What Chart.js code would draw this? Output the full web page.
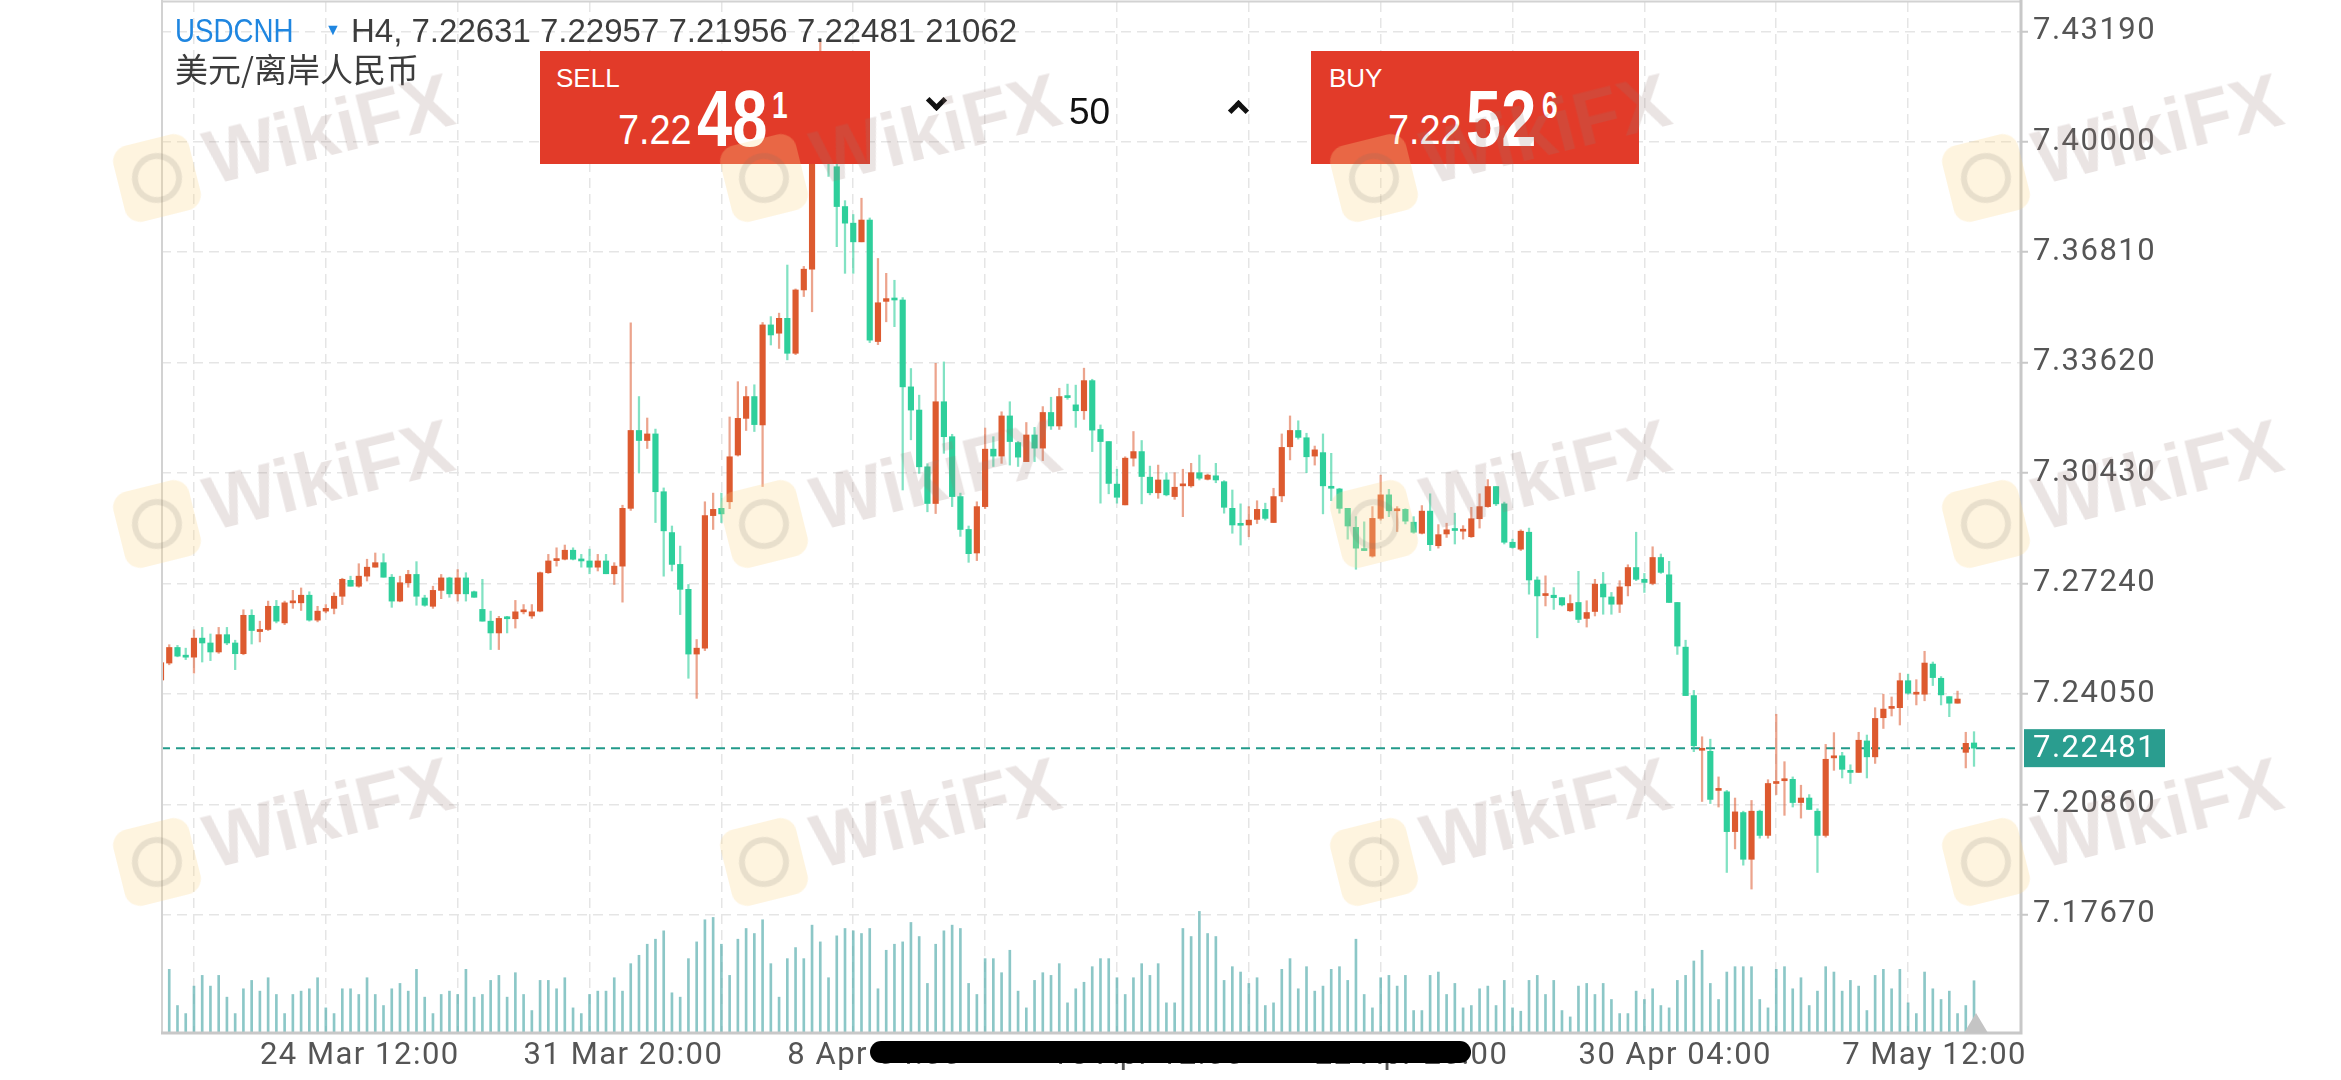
<!DOCTYPE html>
<html>
<head>
<meta charset="utf-8">
<title>USDCNH H4</title>
<script src="https://cdn.jsdelivr.net/npm/chart.js@4"></script>
<style>
  body { margin: 0; background: #fff; }
  #wrap { position: relative; width: 2341px; height: 1080px; overflow: hidden; }
  #chart { position: absolute; left: 0; top: 0; }
  .ov { position: absolute; white-space: nowrap; line-height: 1; font-family: "Liberation Sans", Arial, sans-serif; }
  .box { position: absolute; background: #e23b29; }
  .chev { position: absolute; width: 10px; height: 10px; border-right: 5px solid #111; border-bottom: 5px solid #111; }
  .wm { position: absolute; width: 0; height: 0; transform: rotate(-14deg); pointer-events: none; }
  .wm .logo { position: absolute; left: -39px; top: -39px; width: 78px; height: 78px; border-radius: 16px; background: rgba(250, 214, 140, 0.28); }
  .wm .logo i { position: absolute; left: 14px; top: 14px; width: 38px; height: 38px; border-radius: 50%; border: 6px solid rgba(120, 110, 105, 0.16); }
  .wm .txt { position: absolute; left: 52px; top: -50px; font: bold 76px "Liberation Sans", Arial, sans-serif; color: rgba(150, 122, 115, 0.2); }
</style>
</head>
<body>
<div id="wrap">
  <canvas id="chart" width="2341" height="1080"></canvas>

  <div class="ov" style="left:175px;top:14px;font-size:33px;color:#1f86e0;transform:scaleX(0.84);transform-origin:left">USDCNH</div>
  <div class="ov" style="left:325px;top:22px;font-size:16px;color:#1f86e0">&#9660;</div>
  <div class="ov" id="ohlc" style="left:351px;top:14px;font-size:33px;color:#3c3c3c"></div>
  <div class="ov" style="left:175px;top:52px;font-size:33px;color:#3c3c3c;font-family:'Noto Sans CJK SC',sans-serif">美元/离岸人民币</div>

  <div class="box" style="left:540px;top:51px;width:330px;height:113px"></div>
  <div class="ov" style="left:556px;top:65px;font-size:26px;color:#fff">SELL</div>
  <div class="ov" style="left:618px;top:109px;font-size:42px;color:#fff;transform:scaleX(0.9);transform-origin:left">7.22</div>
  <div class="ov" style="left:697px;top:79px;font-size:80px;font-weight:bold;color:#fff;transform:scaleX(0.79);transform-origin:left">48</div>
  <div class="ov" style="left:772px;top:88px;font-size:36px;font-weight:bold;color:#fff;transform:scaleX(0.78);transform-origin:left">1</div>

  <div class="chev" style="left:929px;top:93px;transform:rotate(45deg)"></div>
  <div class="ov" style="left:1069px;top:93px;font-size:37px;color:#111">50</div>
  <div class="chev" style="left:1231px;top:103px;transform:rotate(-135deg)"></div>

  <div class="box" style="left:1311px;top:51px;width:328px;height:113px"></div>
  <div class="ov" style="left:1329px;top:65px;font-size:26px;color:#fff">BUY</div>
  <div class="ov" style="left:1388px;top:109px;font-size:42px;color:#fff;transform:scaleX(0.9);transform-origin:left">7.22</div>
  <div class="ov" style="left:1466px;top:79px;font-size:80px;font-weight:bold;color:#fff;transform:scaleX(0.79);transform-origin:left">52</div>
  <div class="ov" style="left:1542px;top:88px;font-size:36px;font-weight:bold;color:#fff;transform:scaleX(0.78);transform-origin:left">6</div>

  <div style="position:absolute;left:1964px;top:1013px;width:0;height:0;border-left:12px solid transparent;border-right:12px solid transparent;border-bottom:20px solid #c4c4c4"></div>
  <div style="position:absolute;left:870px;top:1041px;width:601px;height:22px;border-radius:11px;background:#000"></div>
</div>

<script>
// USDCNH H4 bars, left to right (bar 0 sits on the left frame)
const opens = [
  7.2445, 7.2494, 7.2539, 7.2514, 7.2511, 7.2566, 7.2552, 7.2526, 7.2576, 7.2552,
  7.2521, 7.2632, 7.2585, 7.2591, 7.2658, 7.2610, 7.2668, 7.2668, 7.2690, 7.2618,
  7.2644, 7.2652, 7.2687, 7.2733, 7.2716, 7.2745, 7.2771, 7.2784, 7.2742, 7.2673,
  7.2726, 7.2750, 7.2682, 7.2658, 7.2704, 7.2740, 7.2694, 7.2740, 7.2700, 7.2649,
  7.2615, 7.2581, 7.2625, 7.2622, 7.2642, 7.2630, 7.2644, 7.2755, 7.2790, 7.2794,
  7.2820, 7.2794, 7.2789, 7.2771, 7.2789, 7.2752, 7.2774, 7.2941, 7.3166, 7.3137,
  7.3156, 7.2989, 7.2871, 7.2779, 7.2707, 7.2520, 7.2537, 7.2920, 7.2941, 7.2960,
  7.3095, 7.3201, 7.3264, 7.3182, 7.3471, 7.3447, 7.3490, 7.3389, 7.3572, 7.3632,
  7.3990, 7.4120, 7.3928, 7.3813, 7.3765, 7.3711, 7.3774, 7.3423, 7.3539, 7.3545,
  7.3543, 7.3292, 7.3225, 7.3061, 7.2955, 7.3249, 7.3148, 7.2975, 7.2880, 7.2812,
  7.2946, 7.3112, 7.3092, 7.3208, 7.3131, 7.3076, 7.3153, 7.3115, 7.3218, 7.3179,
  7.3264, 7.3240, 7.3223, 7.3310, 7.3169, 7.3134, 7.3011, 7.2951, 7.3086, 7.3105,
  7.3031, 7.2986, 7.3023, 7.2975, 7.3006, 7.3006, 7.3044, 7.3025, 7.3035, 7.3018,
  7.2941, 7.2894, 7.2893, 7.2909, 7.2938, 7.2900, 7.2977, 7.3119, 7.3166, 7.3145,
  7.3092, 7.3102, 7.3004, 7.2997, 7.2941, 7.2886, 7.2823, 7.2803, 7.2912, 7.2980,
  7.2934, 7.2938, 7.2901, 7.2869, 7.2933, 7.2833, 7.2867, 7.2879, 7.2875, 7.2859,
  7.2911, 7.2946, 7.3004, 7.2954, 7.2843, 7.2823, 7.2872, 7.2734, 7.2689, 7.2690,
  7.2683, 7.2645, 7.2669, 7.2623, 7.2643, 7.2722, 7.2685, 7.2664, 7.2717, 7.2770,
  7.2736, 7.2724, 7.2799, 7.2749, 7.2669, 7.2540, 7.2400, 7.2242, 7.2239, 7.2126,
  7.2122, 7.2007, 7.2062, 7.1927, 7.2066, 7.1996, 7.2146, 7.2154, 7.2158, 7.2091,
  7.2104, 7.2066, 7.1996, 7.2220, 7.2226, 7.2184, 7.2178, 7.2269, 7.2223, 7.2336,
  7.2363, 7.2365, 7.2443, 7.2404, 7.2404, 7.2491, 7.2450, 7.2397, 7.2378, 7.2236,
  7.22631
];
const highs = [
  7.2500, 7.2547, 7.2545, 7.2537, 7.2590, 7.2597, 7.2578, 7.2597, 7.2597, 7.2560,
  7.2648, 7.2648, 7.2615, 7.2673, 7.2675, 7.2673, 7.2704, 7.2711, 7.2700, 7.2658,
  7.2663, 7.2697, 7.2739, 7.2745, 7.2781, 7.2794, 7.2812, 7.2810, 7.2750, 7.2745,
  7.2762, 7.2787, 7.2690, 7.2716, 7.2750, 7.2742, 7.2764, 7.2755, 7.2702, 7.2736,
  7.2644, 7.2629, 7.2629, 7.2675, 7.2663, 7.2663, 7.2757, 7.2808, 7.2827, 7.2835,
  7.2827, 7.2808, 7.2823, 7.2808, 7.2808, 7.2784, 7.2950, 7.3477, 7.3264, 7.3202,
  7.3170, 7.3000, 7.2890, 7.2832, 7.2721, 7.2562, 7.2960, 7.2985, 7.2985, 7.3205,
  7.3307, 7.3293, 7.3298, 7.3478, 7.3495, 7.3505, 7.3644, 7.3575, 7.3640, 7.4010,
  7.4290, 7.4160, 7.3950, 7.3830, 7.3790, 7.3837, 7.3780, 7.3663, 7.3620, 7.3600,
  7.3550, 7.3345, 7.3268, 7.3070, 7.3360, 7.3364, 7.3155, 7.2985, 7.2890, 7.2960,
  7.3173, 7.3148, 7.3220, 7.3249, 7.3134, 7.3189, 7.3175, 7.3235, 7.3262, 7.3288,
  7.3300, 7.3297, 7.3346, 7.3314, 7.3182, 7.3134, 7.3054, 7.3090, 7.3163, 7.3137,
  7.3063, 7.3066, 7.3044, 7.3044, 7.3054, 7.3071, 7.3095, 7.3040, 7.3071, 7.3021,
  7.2994, 7.2954, 7.2946, 7.2963, 7.2956, 7.2999, 7.3156, 7.3208, 7.3194, 7.3158,
  7.3121, 7.3156, 7.3100, 7.2999, 7.2941, 7.2917, 7.2902, 7.2946, 7.3037, 7.2996,
  7.2946, 7.2940, 7.2917, 7.2949, 7.2983, 7.2894, 7.2898, 7.2927, 7.2891, 7.2944,
  7.2983, 7.3024, 7.3004, 7.2959, 7.2852, 7.2879, 7.2884, 7.2743, 7.2746, 7.2712,
  7.2683, 7.2691, 7.2759, 7.2674, 7.2736, 7.2756, 7.2698, 7.2732, 7.2778, 7.2872,
  7.2753, 7.2830, 7.2809, 7.2788, 7.2669, 7.2560, 7.2415, 7.2281, 7.2274, 7.2165,
  7.2126, 7.2104, 7.2066, 7.2097, 7.2069, 7.2157, 7.2346, 7.2209, 7.2165, 7.2141,
  7.2114, 7.2073, 7.2259, 7.2293, 7.2236, 7.2200, 7.2294, 7.2286, 7.2365, 7.2404,
  7.2396, 7.2465, 7.2462, 7.2446, 7.2528, 7.2497, 7.2455, 7.2397, 7.2413, 7.2294,
  7.22957
];
const lows = [
  7.2440, 7.2489, 7.2512, 7.2504, 7.2465, 7.2497, 7.2501, 7.2522, 7.2547, 7.2475,
  7.2518, 7.2549, 7.2555, 7.2588, 7.2610, 7.2605, 7.2652, 7.2646, 7.2615, 7.2613,
  7.2639, 7.2636, 7.2663, 7.2716, 7.2713, 7.2731, 7.2771, 7.2742, 7.2655, 7.2671,
  7.2713, 7.2661, 7.2658, 7.2652, 7.2680, 7.2684, 7.2673, 7.2673, 7.2684, 7.2615,
  7.2533, 7.2533, 7.2581, 7.2595, 7.2636, 7.2623, 7.2642, 7.2753, 7.2774, 7.2792,
  7.2792, 7.2771, 7.2752, 7.2760, 7.2752, 7.2721, 7.2670, 7.2935, 7.3043, 7.3114,
  7.2900, 7.2745, 7.2760, 7.2634, 7.2450, 7.2392, 7.2530, 7.2880, 7.2900, 7.2940,
  7.3092, 7.3166, 7.3163, 7.3004, 7.3413, 7.3403, 7.3370, 7.3385, 7.3553, 7.3509,
  7.3950, 7.3900, 7.3697, 7.3620, 7.3620, 7.3711, 7.3420, 7.3414, 7.3480, 7.3466,
  7.2994, 7.3139, 7.3042, 7.2931, 7.2926, 7.3100, 7.2946, 7.2860, 7.2785, 7.2790,
  7.2940, 7.3062, 7.3071, 7.3066, 7.3062, 7.3076, 7.3076, 7.3079, 7.3169, 7.3169,
  7.3256, 7.3175, 7.3198, 7.3105, 7.2956, 7.2983, 7.2956, 7.2951, 7.3063, 7.2954,
  7.2980, 7.2970, 7.2977, 7.2967, 7.2917, 7.3002, 7.3023, 7.3023, 7.3015, 7.2927,
  7.2869, 7.2835, 7.2859, 7.2897, 7.2907, 7.2900, 7.2960, 7.3081, 7.3141, 7.3044,
  7.3066, 7.2925, 7.2963, 7.2927, 7.2852, 7.2765, 7.2819, 7.2800, 7.2907, 7.2917,
  7.2874, 7.2896, 7.2869, 7.2867, 7.2819, 7.2826, 7.2857, 7.2838, 7.2852, 7.2857,
  7.2884, 7.2944, 7.2949, 7.2838, 7.2826, 7.2819, 7.2693, 7.2567, 7.2659, 7.2649,
  7.2659, 7.2643, 7.2611, 7.2598, 7.2630, 7.2635, 7.2635, 7.2640, 7.2688, 7.2732,
  7.2698, 7.2720, 7.2753, 7.2669, 7.2519, 7.2400, 7.2238, 7.2094, 7.2088, 7.2078,
  7.1889, 7.1957, 7.1910, 7.1841, 7.1988, 7.1988, 7.2114, 7.2054, 7.2078, 7.2046,
  7.2071, 7.1889, 7.1991, 7.2184, 7.2162, 7.2146, 7.2178, 7.2162, 7.2204, 7.2305,
  7.2341, 7.2315, 7.2404, 7.2373, 7.2385, 7.2429, 7.2373, 7.2339, 7.2378, 7.2191,
  7.21956
];
const closes = [
  7.2495, 7.2539, 7.2514, 7.2511, 7.2566, 7.2552, 7.2526, 7.2576, 7.2552, 7.2521,
  7.2632, 7.2588, 7.2591, 7.2658, 7.2615, 7.2668, 7.2670, 7.2690, 7.2618, 7.2644,
  7.2652, 7.2687, 7.2736, 7.2716, 7.2745, 7.2771, 7.2784, 7.2742, 7.2673, 7.2726,
  7.2750, 7.2687, 7.2661, 7.2704, 7.2740, 7.2694, 7.2740, 7.2694, 7.2684, 7.2615,
  7.2581, 7.2623, 7.2622, 7.2642, 7.2644, 7.2642, 7.2755, 7.2789, 7.2794, 7.2820,
  7.2794, 7.2789, 7.2771, 7.2789, 7.2752, 7.2774, 7.2941, 7.3166, 7.3137, 7.3156,
  7.2989, 7.2876, 7.2779, 7.2707, 7.2520, 7.2537, 7.2920, 7.2938, 7.2925, 7.3090,
  7.3201, 7.3264, 7.3183, 7.3471, 7.3442, 7.3490, 7.3389, 7.3572, 7.3632, 7.3990,
  7.4120, 7.3940, 7.3813, 7.3765, 7.3711, 7.3774, 7.3427, 7.3535, 7.3547, 7.3543,
  7.3292, 7.3225, 7.3061, 7.2955, 7.3249, 7.3148, 7.2975, 7.2880, 7.2810, 7.2946,
  7.3112, 7.3092, 7.3208, 7.3134, 7.3089, 7.3153, 7.3115, 7.3218, 7.3179, 7.3264,
  7.3261, 7.3223, 7.3310, 7.3167, 7.3134, 7.3013, 7.2973, 7.3086, 7.3105, 7.3033,
  7.2986, 7.3023, 7.2980, 7.3002, 7.3009, 7.3044, 7.3028, 7.3037, 7.3023, 7.2944,
  7.2893, 7.2892, 7.2907, 7.2938, 7.2912, 7.2975, 7.3117, 7.3166, 7.3146, 7.3090,
  7.3110, 7.3006, 7.2999, 7.2941, 7.2890, 7.2826, 7.2819, 7.2912, 7.2980, 7.2934,
  7.2938, 7.2904, 7.2872, 7.2933, 7.2836, 7.2865, 7.2879, 7.2877, 7.2879, 7.2911,
  7.2946, 7.3004, 7.2954, 7.2843, 7.2828, 7.2875, 7.2734, 7.2688, 7.2691, 7.2683,
  7.2662, 7.2666, 7.2620, 7.2640, 7.2722, 7.2685, 7.2664, 7.2714, 7.2770, 7.2736,
  7.2727, 7.2799, 7.2756, 7.2669, 7.2543, 7.2400, 7.2255, 7.2245, 7.2100, 7.2129,
  7.2007, 7.2064, 7.1927, 7.2066, 7.1996, 7.2146, 7.2151, 7.2158, 7.2091, 7.2104,
  7.2071, 7.1996, 7.2216, 7.2226, 7.2187, 7.2178, 7.2271, 7.2223, 7.2334, 7.2361,
  7.2365, 7.2443, 7.2407, 7.2407, 7.2494, 7.2452, 7.2402, 7.2378, 7.2390, 7.2262,
  7.22481
];
const volumes = [
  20000, 25650, 11070, 7830, 18900, 23220, 18900, 23220, 14445, 7830,
  17820, 21195, 16875, 22275, 15525, 7830, 15525, 16875, 17820, 22275,
  10125, 7830, 17820, 17820, 15525, 22275, 15525, 11070, 17820, 19980,
  16875, 25650, 14445, 7830, 15525, 16875, 15525, 25650, 14445, 15525,
  21195, 23220, 14445, 24300, 15525, 9045, 21195, 21195, 17820, 22275,
  10125, 7830, 15525, 16875, 16875, 22275, 16875, 27945, 31320, 35775,
  37800, 41175, 16200, 14445, 29970, 36720, 45630, 46575, 35775, 23220,
  37800, 42120, 40095, 45630, 27945, 14445, 29970, 34425, 29970, 43470,
  36720, 22275, 39150, 42120, 41175, 40095, 42120, 17820, 33345, 35775,
  36720, 44550, 38880, 19980, 35775, 41175, 43470, 42120, 19980, 15525,
  29970, 29970, 24300, 33345, 16875, 10125, 21195, 24300, 23220, 27945,
  12150, 17820, 20450, 26730, 29970, 29970, 22275, 15525, 22275, 27945,
  23220, 27945, 12150, 12150, 42120, 38880, 49005, 40095, 38880, 21195,
  26730, 24570, 19980, 22275, 11070, 12150, 25650, 29970, 17820, 26730,
  16875, 18900, 25650, 26730, 21195, 37800, 15525, 10125, 22275, 23220,
  18900, 23220, 9045, 9045, 23220, 24570, 15525, 19980, 10125, 11070,
  17820, 18900, 11070, 21195, 10125, 8775, 21195, 23220, 15525, 21195,
  9045, 6480, 18900, 19980, 15525, 19980, 13500, 7830, 7830, 16875,
  13500, 17820, 11070, 10125, 21195, 23220, 29025, 33345, 19980, 13500,
  24570, 26730, 26730, 26730, 13500, 10125, 25650, 26730, 17820, 22275,
  11070, 16875, 26730, 24570, 16875, 21195, 18900, 9045, 23220, 25650,
  17820, 25650, 12150, 7830, 24570, 17820, 13500, 16875, 7830, 11070,
  21062
];

const xTickBars = [12, 44, 76, 108, 140, 172, 204];
const xTickLabels = ['24 Mar 12:00', '31 Mar 20:00', '8 Apr 04:00', '15 Apr 12:00', '22 Apr 20:00', '30 Apr 04:00', '7 May 12:00'];
const priceTicks = [7.17670, 7.20860, 7.24050, 7.27240, 7.30430, 7.33620, 7.36810, 7.40000, 7.43190];

const UP = '#dd5a2f';
const DOWN = '#2ecf9b';
const UP_WICK = 'rgba(221, 90, 47, 0.55)';
const DOWN_WICK = 'rgba(46, 207, 155, 0.6)';
const GRID = '#e5e5e5';
const AXIS_FONT = { family: 'Roboto', size: 31 };

const last = closes.length - 1;
const idx = closes.map((_, i) => i);
const isUp = i => closes[i] >= opens[i];
// vertical grid every 16 bars, labels every 32
const gridBars = [];
for (let b = 12; b <= last; b += 16) gridBars.push(b);

document.getElementById('ohlc').textContent =
    `H4, ${opens[last].toFixed(5)} ${highs[last].toFixed(5)} ${lows[last].toFixed(5)} ${closes[last].toFixed(5)} ${volumes[last]}`;

// faint WikiFX marks over the picture
const wrap = document.getElementById('wrap');
[157, 764, 1374, 1986].forEach(x => {
    [178, 524, 862].forEach(y => {
        const wm = document.createElement('div');
        wm.className = 'wm';
        wm.style.left = x + 'px';
        wm.style.top = y + 'px';
        wm.innerHTML = '<div class="logo"><i></i></div><div class="txt">WikiFX</div>';
        wrap.appendChild(wm);
    });
});

const noPad = s => { s.paddingTop = 0; s.paddingBottom = 0; s.paddingLeft = 0; s.paddingRight = 0; };

const tickSpacing = {
    id: 'tickSpacing',
    beforeDraw(chart) { chart.ctx.letterSpacing = '1.5px'; },
    beforeDatasetsDraw(chart) {
        chart.ctx.letterSpacing = '0px';
        // dashed last-price line, under the candles
        const { ctx, chartArea } = chart;
        const y = chart.scales.y.getPixelForValue(closes[last]);
        ctx.save();
        ctx.setLineDash([9, 6]);
        ctx.strokeStyle = '#229a8b';
        ctx.lineWidth = 2;
        ctx.beginPath();
        ctx.moveTo(chartArea.left, y);
        ctx.lineTo(chartArea.right, y);
        ctx.stroke();
        ctx.restore();
    }
};

const frameAndPrice = {
    id: 'frameAndPrice',
    afterDraw(chart) {
        const { ctx, chartArea } = chart;
        const { left, right, top, bottom } = chartArea;
        ctx.save();
        ctx.strokeStyle = '#d2d2d2';
        ctx.lineWidth = 2;
        ctx.beginPath();
        ctx.moveTo(left + 1, 0);
        ctx.lineTo(left + 1, bottom);
        ctx.moveTo(left, top - 0.5);
        ctx.lineTo(right, top - 0.5);
        ctx.stroke();
        ctx.strokeStyle = '#c8c8c8';
        ctx.lineWidth = 3;
        ctx.beginPath();
        ctx.moveTo(right, 0);
        ctx.lineTo(right, bottom + 1.5);
        ctx.moveTo(left, bottom);
        ctx.lineTo(right, bottom);
        ctx.stroke();

        const y = chart.scales.y.getPixelForValue(closes[last]);
        ctx.fillStyle = '#2a9d8f';
        ctx.fillRect(right + 3, y - 19, 141, 38);
        ctx.fillStyle = '#fff';
        ctx.font = '31px Roboto';
        ctx.letterSpacing = '1.5px';
        ctx.textBaseline = 'middle';
        ctx.textAlign = 'left';
        ctx.fillText(closes[last].toFixed(5), right + 12, y + 1);
        ctx.restore();
    }
};

const chart = new Chart(document.getElementById('chart'), {
    type: 'bar',
    data: {
        datasets: [
            {
                label: 'body',
                data: idx.map(i => ({ x: i, y: [opens[i], closes[i]] })),
                yAxisID: 'y',
                backgroundColor: idx.map(i => isUp(i) ? UP : DOWN),
                barThickness: 5.5,
                minBarLength: 2,
                grouped: false,
                order: 0
            },
            {
                label: 'wick',
                data: idx.map(i => ({ x: i, y: [lows[i], highs[i]] })),
                yAxisID: 'y',
                backgroundColor: idx.map(i => isUp(i) ? UP_WICK : DOWN_WICK),
                barThickness: 1.6,
                grouped: false,
                order: 1
            },
            {
                label: 'volume',
                data: idx.map(i => ({ x: i, y: volumes[i] })),
                yAxisID: 'yVol',
                backgroundColor: 'rgba(95, 178, 178, 0.72)',
                barThickness: 2,
                grouped: false,
                order: 2
            }
        ]
    },
    options: {
        responsive: false,
        animation: false,
        devicePixelRatio: 1,
        layout: { padding: { left: 161, top: 2, right: 0, bottom: 0 } },
        plugins: { legend: { display: false }, tooltip: { enabled: false } },
        scales: {
            x: {
                type: 'linear',
                min: 0,
                max: 225.7,
                offset: false,
                afterBuildTicks: s => { s.ticks = gridBars.map(v => ({ value: v })); },
                afterFit: s => { s.height = 47; noPad(s); },
                grid: { color: GRID, lineWidth: 1.5, drawTicks: false },
                border: { display: false, dash: [10, 6] },
                ticks: {
                    autoSkip: false,
                    maxRotation: 0,
                    align: 'start',
                    padding: 5,
                    color: '#555',
                    font: AXIS_FONT,
                    callback: v => {
                        const k = xTickBars.indexOf(v);
                        return k >= 0 ? xTickLabels[k] : '';
                    }
                }
            },
            y: {
                position: 'right',
                min: 7.14251,
                max: 7.44040,
                afterBuildTicks: s => { s.ticks = priceTicks.map(v => ({ value: v })); },
                afterFit: s => { s.width = 320; noPad(s); },
                grid: { color: GRID, lineWidth: 1.5, drawTicks: true, tickLength: 7, tickColor: '#c8c8c8', tickWidth: 2 },
                border: { display: false, dash: [10, 6] },
                ticks: { autoSkip: false, padding: 5, color: '#555', font: AXIS_FONT, callback: v => v.toFixed(5) }
            },
            yVol: { display: false, min: 0, max: 415500 }
        }
    },
    plugins: [tickSpacing, frameAndPrice]
});
</script>
</body>
</html>
